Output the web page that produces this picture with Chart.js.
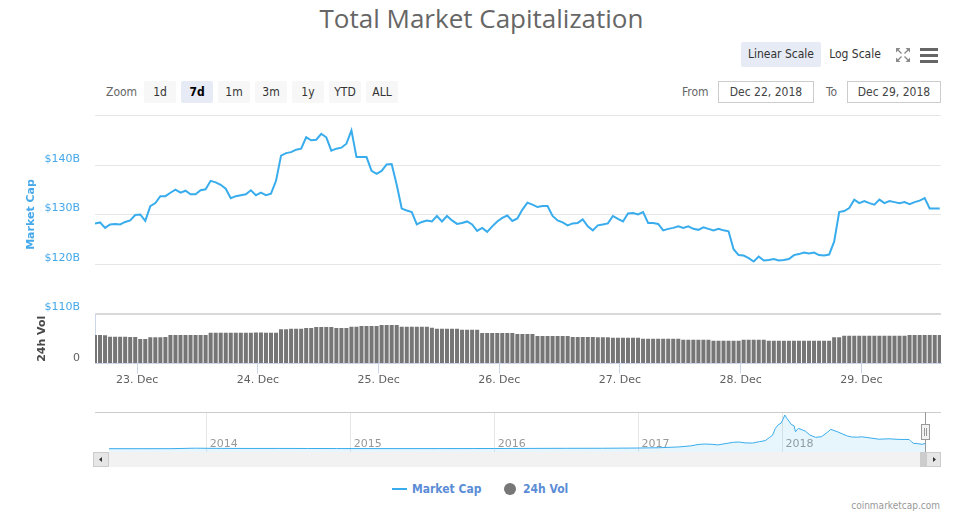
<!DOCTYPE html>
<html>
<head>
<meta charset="utf-8">
<title>Total Market Capitalization</title>
<script src="https://cdn.jsdelivr.net/npm/chart.js@4.4.0/dist/chart.umd.min.js"></script>
<style>
  html, body { margin: 0; padding: 0; background: #fff; }
  body { width: 968px; height: 524px; position: relative; overflow: hidden; font-family: "DejaVu Sans", sans-serif; }
  .box { position: absolute; }
  #title { left: 0; top: 0; width: 963px; line-height: 37px; text-align: center; font: 26px "Open Sans", sans-serif; color: #666; }
  .btn, .lbl, .date, .leg { position: absolute; font: 12px "DejaVu Sans Condensed", "Liberation Sans", sans-serif; font-stretch: condensed; }
  .btn { top: 81px; height: 22px; line-height: 22px; width: 32px; text-align: center; background: #f7f7f7; color: #333; border-radius: 2px; }
  .btn.sel { background: #e6ebf5; color: #000; font-weight: bold; }
  .lbl { color: #666; line-height: 22px; top: 81px; }
  .date { top: 81px; height: 20px; line-height: 20px; border: 1px solid #ccc; text-align: center; color: #444; }
  .leg { top: 481px; line-height: 16px; font-weight: bold; color: #5b8dd6; }
  .wrap { position: absolute; left: 0; width: 968px; }
</style>
</head>
<body>
<div id="title" class="box">Total Market Capitalization</div>

<div class="btn sel" style="left:741px;top:42px;width:80px;height:25px;line-height:25px;font-weight:normal;color:#333">Linear Scale</div>
<div class="btn" style="left:824px;top:42px;width:62px;height:25px;line-height:25px;background:none">Log Scale</div>
<svg class="box" style="left:895px;top:47px" width="16" height="16" viewBox="0 0 16 16">
  <path d="M3 3 L6.5 6.5 M13 3 L9.5 6.5 M3 13 L6.5 9.5 M13 13 L9.5 9.5" stroke="#8a8a8a" stroke-width="1.4" fill="none"/>
  <path d="M1 1 H5.5 L1 5.5Z M15 1 H10.5 L15 5.5Z M1 15 H5.5 L1 10.5Z M15 15 H10.5 L15 10.5Z" fill="#8a8a8a"/>
</svg>
<svg class="box" style="left:920px;top:47px" width="18" height="17" viewBox="0 0 18 17">
  <rect x="0" y="1" width="18" height="3" fill="#666"/>
  <rect x="0" y="7" width="18" height="3" fill="#666"/>
  <rect x="0" y="13" width="18" height="3" fill="#666"/>
</svg>

<div class="lbl" style="left:106px">Zoom</div>
<div class="btn" style="left:144px">1d</div>
<div class="btn sel" style="left:181px">7d</div>
<div class="btn" style="left:218px">1m</div>
<div class="btn" style="left:255px">3m</div>
<div class="btn" style="left:292px">1y</div>
<div class="btn" style="left:329px">YTD</div>
<div class="btn" style="left:366px">ALL</div>

<div class="lbl" style="left:682px">From</div>
<div class="date" style="left:718px;width:94px">Dec 22, 2018</div>
<div class="lbl" style="left:826px">To</div>
<div class="date" style="left:847px;width:92px">Dec 29, 2018</div>

<div class="wrap" style="top:100px;height:220px"><canvas id="capChart"></canvas></div>
<div class="wrap" style="top:313px;height:80px"><canvas id="volChart"></canvas></div>
<div class="wrap" style="top:405px;height:66px"><canvas id="navChart"></canvas></div>

<div class="box" style="left:392px;top:488px;width:15px;height:2px;background:#38acec"></div>
<div class="leg" style="left:412px">Market Cap</div>
<div class="box" style="left:504px;top:483px;width:12px;height:12px;border-radius:6px;background:#777"></div>
<div class="leg" style="left:523px">24h Vol</div>
<div class="box" style="right:28px;top:500px;font:10px 'DejaVu Sans Condensed','Liberation Sans',sans-serif;color:#999">coinmarketcap.com</div>

<script>
// total market cap, hourly, in $B (first point 22 Dec ~15:36)
const startHour = 15.6;
const marketCap = [
  128.2, 128.4, 127.3, 128.0, 128.1, 128.0, 128.5, 128.8, 129.9, 130.0,
  128.7, 131.7, 132.3, 133.7, 133.7, 134.4, 135.0, 134.4, 134.8, 134.1,
  134.1, 134.9, 135.1, 136.8, 136.5, 136.0, 135.2, 133.3, 133.7, 133.9,
  134.1, 134.9, 133.9, 134.4, 133.9, 134.2, 136.8, 141.9, 142.4, 142.6,
  143.1, 143.3, 145.6, 145.0, 145.1, 146.3, 145.6, 142.9, 143.3, 143.5,
  144.3, 147.0, 141.6, 141.6, 141.6, 138.8, 138.2, 138.8, 140.1, 140.2,
  136.0, 131.2, 130.8, 130.5, 128.0, 128.5, 128.8, 128.6, 129.7, 128.6,
  129.7, 128.8, 128.1, 128.3, 128.6, 128.0, 126.7, 127.3, 126.5, 127.6,
  128.6, 129.3, 129.8, 128.7, 129.2, 131.0, 132.4, 132.0, 131.5, 131.7,
  131.7, 129.7, 128.8, 128.4, 127.8, 128.2, 128.3, 129.0, 127.6, 126.8,
  127.8, 128.0, 128.2, 129.7, 129.1, 128.6, 130.2, 130.3, 130.0, 130.5,
  128.3, 128.3, 128.1, 126.8, 127.1, 127.3, 127.6, 127.3, 127.6, 127.1,
  126.9, 127.4, 127.1, 126.8, 127.1, 126.8, 126.6, 123.0, 121.8, 121.7,
  121.2, 120.5, 121.5, 120.7, 120.8, 121.0, 120.7, 120.8, 121.0, 121.8,
  122.0, 122.3, 122.1, 122.3, 121.8, 121.7, 121.9, 124.5, 130.5, 130.7,
  131.3, 133.0, 132.3, 132.7, 132.3, 132.0, 133.0, 132.3, 132.7, 132.5,
  132.3, 132.5, 132.1, 132.5, 132.8, 133.3, 131.2, 131.2, 131.2
];
// 24h volume per hourly bar, in $B
const volume24h = [
  20.2, 20.2, 20.0, 19.0, 19.0, 19.0, 19.0, 18.8, 18.8, 17.3,
  17.3, 18.5, 18.5, 18.5, 18.7, 20.2, 20.2, 20.2, 20.2, 20.2,
  20.2, 20.2, 20.2, 21.8, 21.8, 21.8, 21.8, 21.8, 21.8, 21.8,
  21.8, 21.8, 22.0, 22.0, 21.8, 21.8, 21.8, 24.2, 24.2, 24.6,
  24.6, 24.6, 25.1, 25.1, 25.8, 25.8, 25.8, 25.8, 25.1, 25.1,
  25.1, 26.0, 26.0, 26.5, 26.5, 26.5, 26.5, 27.2, 27.2, 27.2,
  27.2, 26.0, 26.0, 26.0, 26.0, 26.0, 26.0, 25.3, 24.6, 24.6,
  24.6, 24.6, 24.6, 23.9, 23.9, 23.9, 23.9, 21.6, 21.6, 21.6,
  21.6, 21.6, 21.6, 21.6, 20.9, 20.9, 20.9, 20.9, 19.4, 19.4,
  19.4, 19.4, 19.4, 19.4, 19.4, 18.7, 18.7, 18.7, 18.7, 18.7,
  18.5, 18.5, 18.5, 18.2, 18.2, 18.2, 18.2, 18.2, 18.2, 17.5,
  17.5, 17.5, 17.5, 17.5, 17.5, 17.5, 17.5, 16.8, 16.8, 16.8,
  16.8, 16.8, 16.8, 16.1, 16.1, 16.1, 16.1, 16.1, 16.1, 16.8,
  16.8, 16.8, 16.8, 16.8, 16.1, 16.1, 16.1, 16.1, 16.1, 16.1,
  16.1, 16.1, 16.1, 16.1, 16.1, 16.1, 16.1, 18.5, 18.5, 19.7,
  19.7, 19.7, 19.7, 19.7, 19.7, 19.7, 19.7, 19.7, 19.7, 19.7,
  19.7, 19.7, 20.2, 20.2, 20.2, 20.2, 20.2, 20.2, 20.2
];
const xMin = 15.6, xMax = 183.85;   // hours from 22 Dec 00:00
const dayTicks = [24, 48, 72, 96, 120, 144, 168];
const dayLabels = ['23. Dec', '24. Dec', '25. Dec', '26. Dec', '27. Dec', '28. Dec', '29. Dec'];
const capTicks = [110, 120, 130, 140, 150];
const volMax = 35;

// navigator: whole history, decimal years / $B
const navDates = [
  2013.32, 2013.5, 2013.75, 2013.92, 2014.0, 2014.1, 2014.3, 2014.5, 2014.7, 2014.9,
  2015.05, 2015.3, 2015.6, 2015.85, 2016.0, 2016.3, 2016.5, 2016.75, 2016.99, 2017.14,
  2017.28, 2017.36, 2017.42, 2017.46, 2017.51, 2017.55, 2017.6, 2017.66, 2017.7, 2017.74,
  2017.79, 2017.84, 2017.88, 2017.91, 2017.93, 2017.95, 2017.97, 2017.99, 2018.0, 2018.016,
  2018.03, 2018.045, 2018.06, 2018.08, 2018.09, 2018.11, 2018.14, 2018.16, 2018.19, 2018.23,
  2018.27, 2018.31, 2018.335, 2018.38, 2018.45, 2018.48, 2018.52, 2018.55, 2018.6, 2018.67,
  2018.74, 2018.81, 2018.88, 2018.895, 2018.91, 2018.94, 2018.97, 2018.99
];
const navCaps = [
  1.6, 1.2, 2.2, 14, 11, 9, 7, 8, 6.5, 5,
  4, 3.5, 4, 5, 6.5, 9, 11, 12, 17.5, 25,
  45, 70, 108, 116, 110, 95, 125, 160, 165, 145,
  140, 175, 200, 280, 330, 500, 590, 630, 700, 830,
  750, 680, 600, 567, 420, 503, 461, 430, 338, 281,
  296, 400, 478, 420, 315, 290, 285, 295, 270, 235,
  245, 230, 228, 175, 133, 125, 110, 131
];
const navYears = [2014, 2015, 2016, 2017, 2018];

const BLUE = '#38acec';
Chart.defaults.font.family = 'DejaVu Sans';
Chart.defaults.font.size = 11;
Chart.defaults.animation = false;

// fixed-width left axis, no extra padding from labels
function fixLeftAxis(s) {
  s.width = 95;
  s.paddingTop = 0;
  s.paddingBottom = 0;
}

// Market cap line
new Chart(document.getElementById('capChart'), {
  type: 'line',
  data: {
    datasets: [{
      label: 'Market Cap',
      data: marketCap.map((v, i) => ({ x: startHour + i, y: v })),
      borderColor: BLUE,
      borderWidth: 2,
      pointRadius: 0,
      tension: 0,
      fill: false
    }]
  },
  options: {
    responsive: true,
    maintainAspectRatio: false,
    layout: { padding: { left: 0, right: 27, top: 15.5, bottom: 6.5 } },
    plugins: { legend: { display: false }, tooltip: { enabled: false } },
    scales: {
      x: { type: 'linear', min: xMin, max: xMax, display: false },
      y: {
        min: 110, max: 150,
        afterBuildTicks: (a) => { a.ticks = capTicks.map(v => ({ value: v })); },
        afterFit: fixLeftAxis,
        grid: { color: '#e6e6e6', drawTicks: false },
        border: { display: false },
        ticks: {
          padding: 15, labelOffset: -6, color: '#45a8ea',
          callback: (v) => v === 150 ? '' : '$' + v + 'B'
        },
        title: {
          display: true, text: 'Market Cap', color: '#45a8ea',
          font: { size: 11, weight: 'bold' }, padding: { top: 25, bottom: 0 }
        }
      }
    }
  }
});

// 24h volume bars
new Chart(document.getElementById('volChart'), {
  type: 'bar',
  data: {
    datasets: [{
      label: '24h Vol',
      data: volume24h.map((v, i) => ({ x: startHour + i, y: v })),
      backgroundColor: '#767676',
      barPercentage: 1,
      categoryPercentage: 0.8
    }]
  },
  options: {
    responsive: true,
    maintainAspectRatio: false,
    layout: { padding: { left: 0, right: 27, top: 1, bottom: 0 } },
    plugins: { legend: { display: false }, tooltip: { enabled: false } },
    scales: {
      x: {
        type: 'linear', min: xMin, max: xMax, offset: false,
        afterBuildTicks: (a) => { a.ticks = dayTicks.map(v => ({ value: v })); },
        afterFit: (s) => { s.height = 29.5; },
        grid: { drawOnChartArea: false, offset: false, tickLength: 10, color: '#ccd6eb' },
        border: { display: true, color: '#ccd6eb' },
        ticks: {
          autoSkip: false, maxRotation: 0, padding: 0, color: '#606060',
          callback: (v) => dayLabels[dayTicks.indexOf(v)]
        }
      },
      y: {
        min: 0, max: volMax,
        afterBuildTicks: (a) => { a.ticks = [{ value: 0 }, { value: volMax }]; },
        afterFit: fixLeftAxis,
        grid: {
          drawTicks: false,
          color: (c) => c.tick && c.tick.value === volMax ? '#d9d9d9' : 'rgba(0,0,0,0)',
          lineWidth: (c) => c.tick && c.tick.value === volMax ? 2 : 1
        },
        border: { display: true, color: '#ccd6eb' },
        ticks: {
          padding: 15, labelOffset: -5, color: '#606060',
          callback: (v) => v === 0 ? '0' : ''
        },
        title: {
          display: true, text: '24h Vol', color: '#484848',
          font: { size: 11, weight: 'bold' }, padding: { top: 36, bottom: 0 }
        }
      }
    }
  }
});

// navigator decorations: outline, scrollbar, handle
const navDecor = {
  id: 'navDecor',
  afterDraw(chart) {
    const ctx = chart.ctx;
    const a = chart.chartArea;
    ctx.save();
    ctx.strokeStyle = '#cccccc';
    ctx.lineWidth = 1;
    ctx.beginPath();
    ctx.moveTo(95, a.top + 0.5);
    ctx.lineTo(941, a.top + 0.5);
    ctx.stroke();
    // scrollbar
    const sy = a.bottom, sh = 15;
    ctx.fillStyle = '#f2f2f2';
    ctx.fillRect(93, sy, 848, sh);
    ctx.fillStyle = '#cccccc';
    ctx.fillRect(920, sy, 7, sh);
    ctx.fillStyle = '#e6e6e6';
    ctx.fillRect(93, sy, 15, sh);
    ctx.fillRect(926, sy, 15, sh);
    ctx.strokeStyle = '#cccccc';
    ctx.strokeRect(93.5, sy + 0.5, 15, sh - 1);
    ctx.strokeRect(926.5, sy + 0.5, 14, sh - 1);
    ctx.fillStyle = '#333';
    ctx.beginPath();
    ctx.moveTo(99, sy + 7.5); ctx.lineTo(102, sy + 5); ctx.lineTo(102, sy + 10); ctx.closePath();
    ctx.fill();
    ctx.beginPath();
    ctx.moveTo(936, sy + 7.5); ctx.lineTo(933, sy + 5); ctx.lineTo(933, sy + 10); ctx.closePath();
    ctx.fill();
    // handle
    ctx.strokeStyle = '#999999';
    ctx.beginPath();
    ctx.moveTo(925.5, a.top); ctx.lineTo(925.5, a.bottom);
    ctx.stroke();
    ctx.fillStyle = '#f2f2f2';
    ctx.fillRect(921.5, a.top + 12.5, 8, 15);
    ctx.strokeRect(921.5, a.top + 12.5, 8, 15);
    ctx.beginPath();
    ctx.moveTo(924.5, a.top + 16); ctx.lineTo(924.5, a.top + 24);
    ctx.moveTo(926.5, a.top + 16); ctx.lineTo(926.5, a.top + 24);
    ctx.stroke();
    ctx.restore();
  }
};

new Chart(document.getElementById('navChart'), {
  type: 'line',
  data: {
    datasets: [{
      label: 'Market Cap',
      data: navCaps.map((v, i) => ({ x: navDates[i], y: v })),
      borderColor: BLUE,
      borderWidth: 1,
      backgroundColor: 'rgba(56,172,236,0.12)',
      pointRadius: 0,
      tension: 0,
      fill: 'start'
    }]
  },
  options: {
    responsive: true,
    maintainAspectRatio: false,
    layout: { padding: { left: 109, right: 43, top: 7, bottom: 19 } },
    plugins: { legend: { display: false }, tooltip: { enabled: false } },
    scales: {
      x: {
        type: 'linear', min: 2013.32, max: 2018.99,
        afterBuildTicks: (a) => { a.ticks = navYears.map(v => ({ value: v })); },
        afterFit: (s) => { s.height = 0; },
        grid: { color: '#e6e6e6', drawTicks: false },
        border: { display: false },
        ticks: {
          autoSkip: false, maxRotation: 0, mirror: true,
          align: 'start', labelOffset: 3, padding: 1,
          color: '#999', callback: (v) => String(v)
        }
      },
      y: { min: -80, max: 905, display: false }
    }
  },
  plugins: [navDecor]
});
</script>
</body>
</html>
